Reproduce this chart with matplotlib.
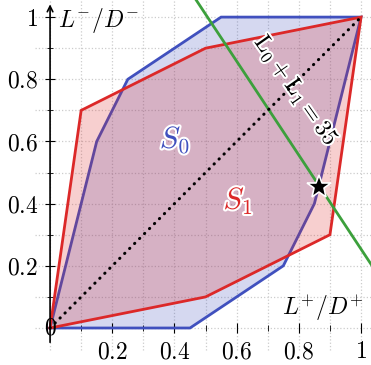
import matplotlib.pyplot as plt
import matplotlib.patheffects as pe
import numpy as np

plt.rcParams['mathtext.fontset'] = 'cm'
plt.rcParams['font.family'] = 'serif'
plt.rcParams['font.serif'] = ['cmr10', 'DejaVu Serif']
plt.rcParams['axes.formatter.use_mathtext'] = True

# polygon S0 (blue) and S1 (red), in L+/D+ , L-/D- coordinates
s0_x = [0, 0.15, 0.25, 0.55, 1.0, 0.85, 0.75, 0.45, 0]
s0_y = [0, 0.60, 0.80, 1.00, 1.0, 0.40, 0.20, 0.00, 0]
s1_x = [0, 0.10, 0.50, 1.0, 0.90, 0.50, 0]
s1_y = [0, 0.70, 0.90, 1.0, 0.30, 0.10, 0]

diag_x = [0, 1]
diag_y = [0, 1]

# iso line L0 + L1 = 35
green_x = [0.44, 1.06]
green_y = [1.10, 0.163]

star_x = [0.865]
star_y = [0.452]

major = [0.2, 0.4, 0.6, 0.8, 1.0]
major_lab = ['0.2', '0.4', '0.6', '0.8', '1']
minor = [0.1, 0.3, 0.5, 0.7, 0.9]

blue = '#4050be'
red = '#dc2828'
green = '#3ca03c'

fig = plt.figure(figsize=(3.71, 3.65), dpi=100)
ax = fig.add_axes([0, 0, 1, 1])
ax.set_xlim(-0.161, 1.032)
ax.set_ylim(-0.119, 1.055)

# grid
grid_pos = np.arange(0, 11) / 10
ax.vlines(grid_pos, -0.07, 1.055, colors='#cccccc', linestyles=':', linewidth=0.9, zorder=0)
ax.hlines(grid_pos, -0.05, 1.032, colors='#cccccc', linestyles=':', linewidth=0.9, zorder=0)

ax.fill(s0_x, s0_y, color=blue, alpha=0.22, lw=0, zorder=1)
ax.plot(s0_x, s0_y, color=blue, lw=2, zorder=2, solid_joinstyle='miter')
ax.fill(s1_x, s1_y, color=red, alpha=0.22, lw=0, zorder=3)
ax.plot(s1_x, s1_y, color=red, lw=2, zorder=4, solid_joinstyle='miter')

ax.plot(green_x, green_y, color=green, lw=2, zorder=5)

white = [pe.withStroke(linewidth=3, foreground='white')]
ax.text(0.79, 0.762, r'$\mathrm{L}_0 + \mathrm{L}_1 = 35$', rotation=-55,
        rotation_mode='anchor', ha='center', va='center', fontsize=17,
        path_effects=white, zorder=6)
ax.text(0.402, 0.579, r'$S_0$', color=blue, fontsize=22, ha='center', va='baseline',
        path_effects=white, zorder=6)
ax.text(0.605, 0.383, r'$S_1$', color=red, fontsize=22, ha='center', va='baseline',
        path_effects=white, zorder=6)

ax.plot(diag_x, diag_y, color='black', lw=2.2, ls=(0, (0.1, 2.2)),
        dash_capstyle='round', zorder=7)

ax.plot(star_x, star_y, marker='*', ms=18, color='black', mec='white', mew=1.2,
        ls='none', zorder=8)

# axes (pgfplots style, middle lines with arrows)
for s in ax.spines.values():
    s.set_color('none')
ax.spines['left'].set_position(('data', 0))
ax.spines['bottom'].set_position(('data', 0))
ax.annotate('', xy=(1.035, 0), xytext=(-0.05, 0),
            arrowprops=dict(arrowstyle='->', lw=1.2, color='black', mutation_scale=10), zorder=9)
ax.annotate('', xy=(0, 1.05), xytext=(0, -0.055),
            arrowprops=dict(arrowstyle='->', lw=1.2, color='black', mutation_scale=10), zorder=9)

ax.set_xticks(major)
ax.set_xticklabels(['$' + l + '$' for l in major_lab])
ax.set_yticks(major)
ax.set_yticklabels(['$' + l + '$' for l in major_lab])
ax.set_xticks(minor, minor=True)
ax.set_yticks(minor, minor=True)
ax.tick_params(which='major', direction='inout', length=7, width=0.8, labelsize=17)
ax.tick_params(axis='x', which='major', pad=6)
ax.tick_params(axis='y', which='major', pad=5)
ax.tick_params(which='minor', direction='inout', length=5, width=0.6)
ax.text(0, 0, '$0$', fontsize=17, ha='center', va='center', zorder=10)

ax.text(0.026, 0.968, r'$L^{-}/D^{-}$', fontsize=17, ha='left', va='baseline')
ax.text(1.006, 0.042, r'$L^{+}/D^{+}$', fontsize=17, ha='right', va='baseline')

fig.savefig('out.png', dpi=100)
